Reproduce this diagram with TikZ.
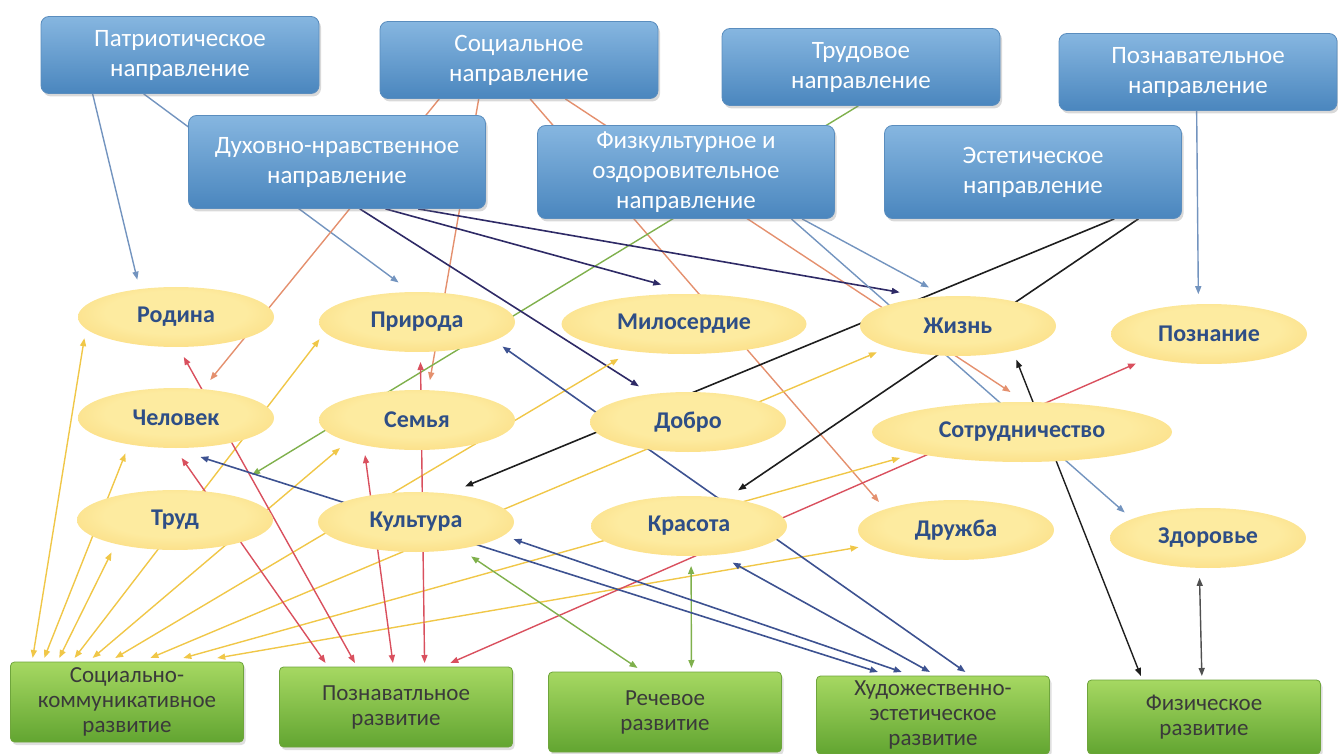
\documentclass[tikz,border=0pt]{standalone}
\usepackage{fontspec}
\setmainfont{Carlito}
\usepackage{xcolor}
\usepackage{tikz}
\usetikzlibrary{shapes.geometric,shadows,backgrounds,arrows.meta}

\definecolor{bltop}{HTML}{86B6E0}
\definecolor{blbot}{HTML}{4A86BE}
\definecolor{blline}{HTML}{5A8DBE}
\definecolor{grtop}{HTML}{A6D862}
\definecolor{grbot}{HTML}{62A531}
\definecolor{grline}{HTML}{6FA53C}
\definecolor{razvtext}{HTML}{3A3A3A}
\definecolor{temtext}{HTML}{2E4E86}
\definecolor{elin}{HTML}{FDEBA0}
\definecolor{elmid}{HTML}{FAD879}
\definecolor{elout}{HTML}{EEB843}
\definecolor{lineyellow}{HTML}{F0C748}
\definecolor{linered}{HTML}{D9505E}
\definecolor{lineorange}{HTML}{E4906E}
\definecolor{linenavy}{HTML}{3D5291}
\definecolor{linepurple}{HTML}{2E2A66}
\definecolor{lineblack}{HTML}{1E1E1E}
\definecolor{linesteel}{HTML}{7394BF}
\definecolor{linegreen}{HTML}{7FB04C}
\definecolor{linegray}{HTML}{505050}

\pgfdeclareradialshading{ellshade}{\pgfpoint{0bp}{6bp}}{color(0bp)=(elin); color(18bp)=(elin); color(36bp)=(elmid); color(50bp)=(elout)}

\begin{document}
\begin{tikzpicture}[
            x=0.5pt, y=-0.5pt,
            >={Triangle[length=4pt,width=3pt]},
            napr/.style={rectangle, rounded corners=4pt, top color=bltop, bottom color=blbot, draw=blline, line width=0.4pt, text=white, align=center, font=\fontsize{12.5}{15}\selectfont, minimum width=139pt, minimum height=38.5pt, inner sep=2pt, drop shadow={opacity=0.3, shadow xshift=1pt, shadow yshift=-1.5pt}},
            naprbig/.style={minimum width=148.5pt, minimum height=46.5pt},
            tema/.style={ellipse, shading=ellshade, text=temtext, font=\bfseries\fontsize{12}{14}\selectfont, minimum width=98pt, minimum height=30pt, inner sep=0pt, outer sep=5pt},
            razv/.style={rectangle, rounded corners=2pt, top color=grtop, bottom color=grbot, draw=grline, line width=0.4pt, text=razvtext, align=center, font=\fontsize{11.5}{12.5}\selectfont, minimum width=116.5pt, minimum height=40pt, inner sep=1pt, outer sep=2pt, drop shadow={opacity=0.25, shadow xshift=1pt, shadow yshift=-1.5pt}},
            oneway/.style={->, line width=0.7pt},
            twoway/.style={<->, line width=0.7pt}
        ]
            \useasboundingbox (0,0) rectangle (1338,754);
            % Directions
            \begin{scope}[every node/.style={napr}]
                \node (npatr) at ( 180, 55) {Патриотическое\\направление};
                \node (nsoc)  at ( 519, 60) {Социальное\\направление};
                \node (ntrud) at ( 861, 67) {Трудовое\\направление};
                \node (npozn) at (1198, 72) {Познавательное\\направление};
                \node[naprbig] (nduh) at ( 337,162) {Духовно-нравственное\\направление};
                \node[naprbig] (nfiz) at ( 686,172) {Физкультурное и\\оздоровительное\\направление};
                \node[naprbig] (nest) at (1033,172) {Эстетическое\\направление};
            \end{scope}
            % Themes
            \begin{scope}[every node/.style={tema}]
                \node (rodina)   at ( 176,317) {Родина};
                \node (priroda)  at ( 417,322) {Природа};
                \node[minimum width=122.5pt] (miloserdie) at (684,324) {Милосердие};
                \node (zhizn)    at ( 958,326) {Жизнь};
                \node (poznanie) at (1209,334) {Познание};
                \node (chelovek) at ( 176,418) {Человек};
                \node (semya)    at ( 417,420) {Семья};
                \node (dobro)    at ( 688,422) {Добро};
                \node[minimum width=150pt] (sotrud) at (1022,432) {Сотрудничество};
                \node (trud)     at ( 175,520) {Труд};
                \node (kultura)  at ( 416,522) {Культура};
                \node (krasota)  at ( 689,526) {Красота};
                \node (druzhba)  at ( 956,530) {Дружба};
                \node (zdorove)  at (1208,538) {Здоровье};
            \end{scope}
            % Areas of development
            \begin{scope}[every node/.style={razv}]
                \node (rsoc)  at ( 127,702) {Социально-\\коммуникативное\\развитие};
                \node (rpozn) at ( 396,707) {Познаватльное\\развитие};
                \node (rrech) at ( 665,712) {Речевое\\развитие};
                \node[minimum height=39pt] (rhud) at ( 933,715) {Художественно-\\эстетическое\\развитие};
                \node[minimum height=37pt] (rfiz) at (1204,717) {Физическое\\развитие};
            \end{scope}
            % Edges
            \begin{scope}[on background layer]
                % from the directions
                \draw[oneway, linesteel] (npatr.204) -- (rodina.136);
                \draw[oneway, linesteel] (npatr.227) -- (priroda.115);
                \draw[oneway, lineorange] (nsoc.206) -- (chelovek.48);
                \draw[oneway, lineorange] (nsoc.224) -- (semya.72);
                \draw[oneway, lineorange] (nsoc.286) -- (druzhba.160);
                \draw[oneway, lineorange] (nsoc.320) -- (sotrud.106);
                \draw[oneway, linegreen, shorten >=11pt] (ntrud.266) -- (trud.30);
                \draw[oneway, linesteel] (npozn.268) -- (poznanie.105);
                \draw[oneway, linepurple, line width=0.8pt] (nduh.296) -- (dobro.144);
                \draw[oneway, linepurple, line width=0.8pt] (nduh.316) -- (miloserdie.120);
                \draw[oneway, linepurple, line width=0.8pt] (nduh.330) -- (zhizn.150);
                \draw[oneway, linesteel] (nfiz.338) -- (zhizn.127);
                \draw[oneway, linesteel] (nfiz.336) -- (zdorove.163);
                \draw[oneway, lineblack, line width=0.8pt] (nest.330) -- (kultura.36);
                \draw[oneway, lineblack, line width=0.8pt] (nest.336) -- (krasota.36);
                % social-communicative
                \draw[twoway, lineyellow] (rsoc.155) -- (rodina.193);
                \draw[twoway, lineyellow] (rsoc.152) -- (chelovek.215);
                \draw[twoway, lineyellow] (rsoc.147) -- (trud.207);
                \draw[twoway, lineyellow] (rsoc.140) -- (priroda.190);
                \draw[twoway, lineyellow] (rsoc.128) -- (semya.200);
                \draw[twoway, lineyellow] (rsoc.105) -- (miloserdie.208);
                \draw[twoway, lineyellow] (rsoc.62)  -- (zhizn.198);
                \draw[twoway, lineyellow] (rsoc.38)  -- (sotrud.192);
                \draw[twoway, lineyellow] (rsoc.26)  -- (druzhba.190);
                % cognitive
                \draw[twoway, linered] (rpozn.148) -- (chelovek.278);
                \draw[twoway, linered] (rpozn.133) -- (rodina.281);
                \draw[twoway, linered] (rpozn.94)  -- (semya.214);
                \draw[twoway, linered] (rpozn.57)  -- (priroda.275);
                \draw[twoway, linered] (rpozn.39)  -- (poznanie.202);
                % speech
                \draw[twoway, linegreen] (kultura.328) -- (rrech.122);
                \draw[twoway, linegreen] (krasota.273) -- (rrech.59);
                % artistic-aesthetic
                \draw[twoway, linenavy, line width=0.8pt] (rhud.53)  -- (priroda.344);
                \draw[twoway, linenavy, line width=0.8pt] (rhud.142) -- (chelovek.302);
                \draw[twoway, linenavy, line width=0.8pt] (rhud.126) -- (kultura.350);
                \draw[twoway, linenavy, line width=0.8pt] (rhud.94)  -- (krasota.320);
                % physical
                \draw[twoway, lineblack] (rfiz.147) -- (zhizn.330);
                \draw[twoway, linegray] (zdorove.258) -- (rfiz.93);
            \end{scope}
        \end{tikzpicture}
\end{document}
